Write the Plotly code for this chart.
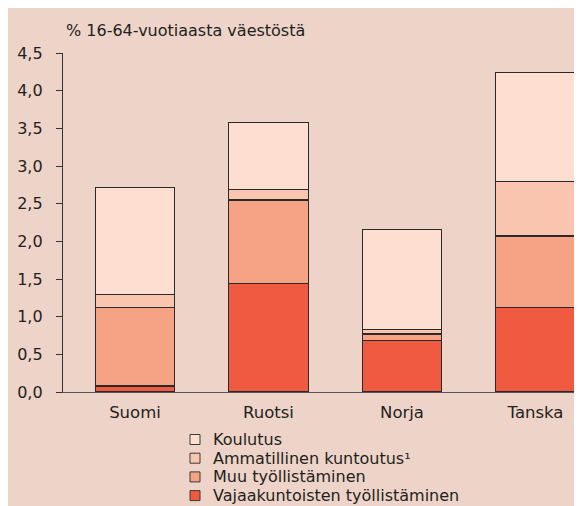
import plotly.graph_objects as go

categories = ["Suomi", "Ruotsi", "Norja", "Tanska"]
vajaakuntoisten = [0.08, 1.44, 0.68, 1.12]
muu = [1.04, 1.11, 0.09, 0.95]
ammatillinen = [0.17, 0.14, 0.06, 0.72]
koulutus = [1.42, 0.89, 1.33, 1.45]
y_ticks = [0, 0.5, 1.0, 1.5, 2.0, 2.5, 3.0, 3.5, 4.0, 4.5]
y_tick_labels = ["0,0", "0,5", "1,0", "1,5", "2,0", "2,5", "3,0", "3,5", "4,0", "4,5"]

series = [
    ("Vajaakuntoisten työllistäminen", vajaakuntoisten, "#F05A40"),
    ("Muu työllistäminen", muu, "#F6A285"),
    ("Ammatillinen kuntoutus¹", ammatillinen, "#F9C5AF"),
    ("Koulutus", koulutus, "#FDDED1"),
]

FONT = "DejaVu Sans"
BG = "#EED3C8"
TXT = "#231f20"
W, H = 582, 506
ML, MR, MT, MB = 55, 0, 45, 122
PW, PH = W - ML - MR, H - MT - MB


def px_x(px):
    return (px - ML) / PW


def px_y(py):
    return (H - MB - py) / PH


fig = go.Figure()
for name, vals, col in series:
    fig.add_trace(go.Bar(
        x=categories, y=vals, name=name, width=0.595,
        marker=dict(color=col, line=dict(color="#2a2a2a", width=1.2)),
    ))

# custom legend (top to bottom: Koulutus ... Vajaakuntoisten)
legend_rows = [431.5, 450.2, 468.9, 487.6]
shapes = []
annotations = []
for (name, vals, col), yc in zip(reversed(series), legend_rows):
    shapes.append(dict(
        type="rect", xref="paper", yref="paper",
        x0=px_x(182), x1=px_x(192), y0=px_y(yc + 5), y1=px_y(yc - 5),
        fillcolor=col, line=dict(color="#3a3a3a", width=1),
    ))
    annotations.append(dict(
        text=name, xref="paper", yref="paper",
        x=px_x(203), y=px_y(yc), xanchor="left", yanchor="middle",
        showarrow=False, font=dict(family=FONT, size=16, color=TXT),
    ))

annotations.append(dict(
    text="% 16-64-vuotiaasta väestöstä", xref="paper", yref="paper",
    x=px_x(56), y=px_y(23), xanchor="left", yanchor="middle", showarrow=False,
    font=dict(family=FONT, size=16, color=TXT),
))

fig.update_layout(
    width=W, height=H,
    barmode="stack",
    paper_bgcolor=BG, plot_bgcolor=BG,
    margin=dict(l=ML, r=MR, t=MT, b=MB),
    font=dict(family=FONT, size=16, color=TXT),
    showlegend=False,
    xaxis=dict(
        range=[-0.539, 3.408], showgrid=False, zeroline=False,
        showline=True, linecolor="#555555", linewidth=1.3,
        ticks="", tickfont=dict(size=16.5), ticklabelstandoff=5,
    ),
    yaxis=dict(
        range=[0, 4.5], tickvals=y_ticks, ticktext=y_tick_labels,
        showgrid=False, zeroline=False,
        showline=True, linecolor="#333333", linewidth=1.3,
        ticks="outside", ticklen=6, tickcolor="#333333", tickwidth=1.3,
        ticklabelstandoff=10, tickfont=dict(size=16),
    ),
    shapes=shapes,
    annotations=annotations,
)

fig.write_html("out.html")
